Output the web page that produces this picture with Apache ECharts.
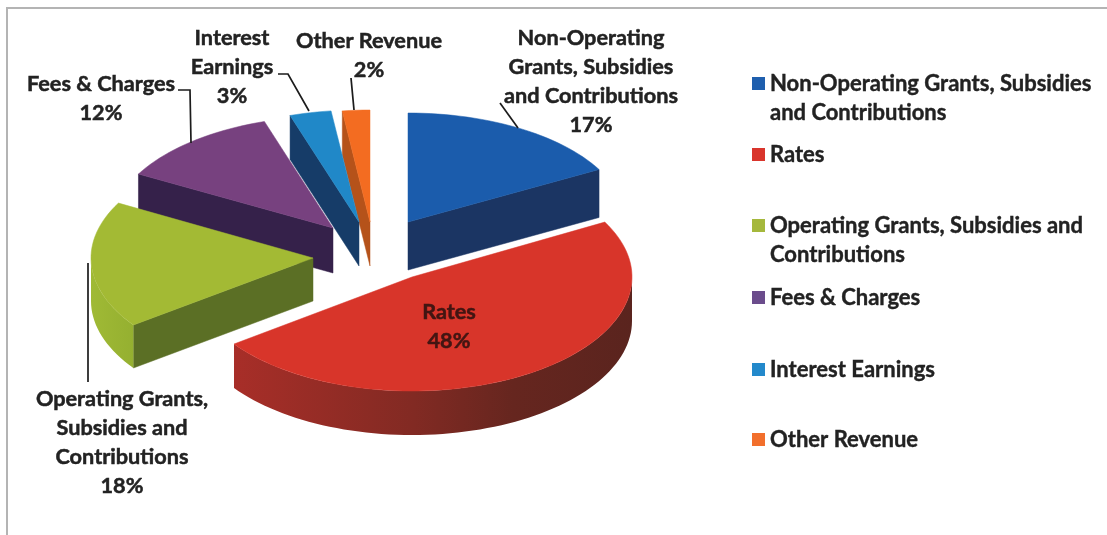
<!DOCTYPE html>
<html>
<head>
<meta charset="utf-8">
<style>html,body{margin:0;padding:0;background:#fff}#c{width:1107px;height:535px}</style>
<script src="https://cdn.jsdelivr.net/npm/echarts@6/dist/echarts.min.js"></script>
</head>
<body>
<div id="c"></div>
<script>
// ---- data ----
const categories = ['Non-Operating Grants, Subsidies and Contributions','Rates','Operating Grants, Subsidies and Contributions','Fees & Charges','Interest Earnings','Other Revenue'];
const values = [17,48,18,12,3,2];
const legendNames = ['Non-Operating Grants, Subsidies\nand Contributions','Rates','Operating Grants, Subsidies and\nContributions','Fees & Charges','Interest Earnings','Other Revenue'];
const labelNames = ['Non-Operating\nGrants, Subsidies\nand Contributions','Rates','Operating Grants,\nSubsidies and\nContributions','Fees & Charges','Interest\nEarnings','Other Revenue'];

// ---- styles and layout ----
const FONT = 'bold 21.7px Lato, sans-serif';
const topColors = ['#1B5CAC','#D8352A','#A3BA34','#77417F','#2088C8','#F36C21'];
const legendColors = ['#1F5FAE','#D9352C','#A5B83C','#6B4C8C','#2389CB','#F26F2C'];
const endWall = ['#1B3563',null,null,null,null,null];
const startWall = [null,null,'#5B6F25','#35214A','#163C68','#B5521A'];
const apex = [[408,222],[412,277],[313,258],[333,228],[359,222],[370,222]];
const radiusX = [218,220,222,222,223,221];
const radiusY = [109,114,114,112,112,112];
const depth = [48,44,43,45,44,44];
const outerWall = [null,
  {x:233,x2:633,stops:[[0,'#A82E28'],[0.45,'#822A23'],[0.7,'#66261F'],[1,'#5A241E']]},
  {x:90,x2:137,stops:[[0,'#A0BA35'],[1,'#94AF30']]},null,null,null];
const labelPos = [[591,82],[449,327],[122,443],[101,99],[232,67],[369,56]];
const labelFill = ['#222','#421512','#222','#222','#222','#222'];
const leaders = [[[500,103],[518,128]],null,[[88,263],[88,382]],[[178,90],[190,90],[191,143]],[[278,74],[288,74],[309,111]],[[351,78],[354,110]]];
const legendY = [83,154,225,297,369,439];
const drawOrder = [5,4,3,0,2,1];

const total = values.reduce((a,b)=>a+b,0);
const startAngles = []; let acc = 0;
values.forEach(v=>{startAngles.push(acc/total*360); acc+=v;});

function pt(i,deg,dz){
  const t = deg*Math.PI/180;
  return [apex[i][0]+radiusX[i]*Math.sin(t), apex[i][1]-radiusY[i]*Math.cos(t)+(dz||0)];
}
function arc(i,a,b,dz){
  const n = Math.max(2,Math.ceil(Math.abs(b-a)/2)), out=[];
  for(let k=0;k<=n;k++) out.push(pt(i,a+(b-a)*k/n,dz));
  return out;
}
function poly(points,fill){
  return {type:'polygon',shape:{points},style:{fill,stroke:fill,lineWidth:0.5},silent:true};
}
function renderSlice(i){
  const a = startAngles[i], b = a+values[i]/total*360, d = depth[i], A = apex[i];
  const ch = [];
  if(startWall[i]){
    const p = pt(i,a);
    ch.push(poly([A,p,[p[0],p[1]+d],[A[0],A[1]+d]],startWall[i]));
  }
  if(endWall[i]){
    const p = pt(i,b);
    ch.push(poly([A,p,[p[0],p[1]+d],[A[0],A[1]+d]],endWall[i]));
  }
  const fa = Math.max(a,90), fb = Math.min(b,270);
  if(outerWall[i] && fb>fa){
    const w = outerWall[i];
    const top = arc(i,fa,fb,0), bot = arc(i,fa,fb,d).reverse();
    ch.push({type:'polygon',shape:{points:top.concat(bot)},silent:true,style:{
      fill:new echarts.graphic.LinearGradient(w.x2,0,w.x,0,w.stops.map(s=>({offset:1-s[0],color:s[1]})).reverse(),true)}});
  }
  ch.push(poly([A].concat(arc(i,a,b,0)),topColors[i]));
  if(leaders[i]){
    ch.push({type:'polyline',shape:{points:leaders[i]},style:{fill:null,stroke:'#1c1c1c',lineWidth:1.7},silent:true});
  }
  ch.push({type:'text',silent:true,style:{
    x:labelPos[i][0],y:labelPos[i][1],
    text:labelNames[i]+'\n'+values[i]+'%',
    font:FONT,lineHeight:29,align:'center',verticalAlign:'middle',fill:labelFill[i],
    stroke:labelFill[i],lineWidth:0.5}});
  return {type:'group',children:ch};
}

const series = drawOrder.map((i,order)=>({
  type:'custom',name:legendNames[i],coordinateSystem:'none',
  z:2+order,animation:false,silent:true,
  data:[[values[i]]],
  renderItem:()=>renderSlice(i)
}));

const legends = legendNames.map((n,i)=>{
  const two = n.indexOf('\n')>=0;
  return {
    data:[{name:n,itemStyle:{color:legendColors[i]}}],
    orient:'vertical',left:752,
    top: legendY[i]-(two?43:14),
    padding:0,itemWidth:13,itemHeight:13,itemGap:0,icon:'rect',selectedMode:false,
    formatter:two?(s=>'\n'+s):undefined,
    textStyle:{fontFamily:'Lato, sans-serif',fontWeight:'bold',fontSize:22,lineHeight:29,color:'#222',
      textBorderColor:'#222',textBorderWidth:0.4}
  };
});

const chart = echarts.init(document.getElementById('c'),null,{renderer:'canvas'});
chart.setOption({
  animation:false,
  backgroundColor:'#fff',
  tooltip:{show:false},
  legend:legends,
  graphic:[
    {type:'polyline',shape:{points:[[7,535],[7,8],[1107,8]]},style:{fill:null,stroke:'#b4b4b4',lineWidth:2},silent:true,z:0}
  ],
  series
});
</script>
</body>
</html>
